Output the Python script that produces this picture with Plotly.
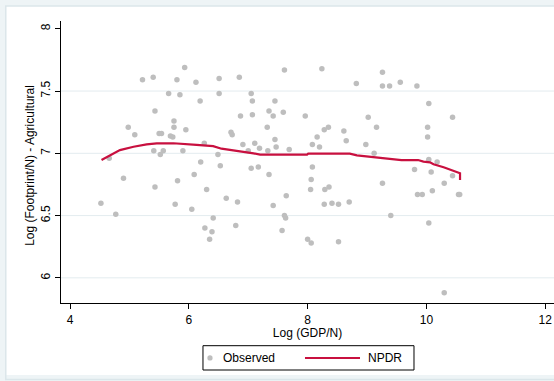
import plotly.graph_objects as go

# Observed countries: log GDP per capita vs log agricultural footprint per capita
gdp = [5.22, 5.40, 5.93, 5.80, 6.12, 6.51, 6.85, 5.66, 5.85, 6.51,
       6.19, 7.05, 7.07, 7.45, 5.43, 5.75, 5.75, 6.87, 7.07, 7.35,
       7.42, 4.98, 5.09, 5.50, 5.54, 5.69, 5.73, 5.95, 6.71, 6.73,
       7.32, 7.45, 5.41, 5.52, 5.57, 5.90, 6.26, 6.49, 6.91, 7.11,
       7.19, 7.33, 7.47, 6.20, 6.53, 7.05, 7.17, 7.35, 4.90, 6.09,
       5.81, 5.43, 6.30, 7.61, 8.24, 9.26, 8.82, 9.26, 9.38, 9.56,
       9.84, 10.04, 7.59, 7.96, 9.02, 10.44, 9.16, 10.02, 8.28, 8.35,
       8.61, 8.16, 8.65, 10.02, 8.08, 8.20, 8.98, 7.69, 9.12, 10.04,
       10.18, 9.80, 10.08, 10.44, 8.08, 8.06, 9.26, 10.30, 4.52, 4.77,
       5.77, 6.05, 6.41, 6.27, 6.39, 6.35, 6.63, 6.82, 6.79, 7.42,
       7.64, 7.61, 7.63, 7.57, 8.05, 8.29, 8.36, 8.28, 8.41, 8.52,
       8.70, 8.00, 8.06, 8.52, 9.40, 9.85, 9.93, 10.10, 10.04, 10.54,
       10.56, 10.30, 7.00, 4.66]
footprint = [7.59, 7.61, 7.69, 7.59, 7.57, 7.60, 7.61, 7.48, 7.47, 7.48,
             7.42, 7.48, 7.42, 7.42, 7.34, 7.26, 7.21, 7.30, 7.31, 7.34,
             7.30, 7.21, 7.15, 7.16, 7.16, 7.14, 7.13, 7.19, 7.17, 7.15,
             7.21, 7.11, 7.02, 6.99, 7.02, 7.02, 7.08, 6.99, 7.07, 7.08,
             7.04, 7.02, 7.05, 6.93, 6.90, 6.88, 6.89, 6.83, 6.80, 6.83,
             6.78, 6.73, 6.71, 7.67, 7.68, 7.65, 7.56, 7.54, 7.54, 7.57,
             7.54, 7.40, 7.33, 7.30, 7.29, 7.29, 7.21, 7.21, 7.19, 7.21,
             7.18, 7.13, 7.10, 7.13, 7.07, 7.05, 7.07, 7.03, 7.00, 6.95,
             6.93, 6.87, 6.85, 6.82, 6.89, 6.79, 6.76, 6.76, 6.60, 6.51,
             6.59, 6.55, 6.48, 6.40, 6.37, 6.31, 6.64, 6.61, 6.42, 6.58,
             6.66, 6.50, 6.48, 6.38, 6.71, 6.71, 6.73, 6.59, 6.60, 6.59,
             6.61, 6.31, 6.28, 6.29, 6.50, 6.67, 6.67, 6.70, 6.44, 6.67,
             6.67, 5.88, 7.02, 6.96]

# Nonparametric regression fit (NPDR)
npdr_x = [4.53, 4.84, 5.07, 5.29, 5.46, 5.74, 6.13, 6.41, 6.55, 6.75,
          6.89, 7.09, 7.20, 7.56, 7.99, 8.01, 8.71, 8.83, 9.05, 9.27,
          9.58, 9.86, 9.95, 10.06, 10.12, 10.29, 10.54, 10.566, 10.566]
npdr_y = [6.946, 7.026, 7.053, 7.072, 7.080, 7.081, 7.067, 7.058, 7.037, 7.026,
          7.013, 7.000, 6.989, 6.989, 6.990, 6.998, 6.997, 6.984, 6.973, 6.957,
          6.946, 6.946, 6.933, 6.928, 6.912, 6.888, 6.845, 6.840, 6.786]

x_ticks = [4, 6, 8, 10, 12]
y_ticks = [6, 6.5, 7, 7.5, 8]
y_grid = [6, 6.5, 7, 7.5]

FONT = "Liberation Sans, Arial, sans-serif"
MARKER_GRAY = "#bebebe"
FIT_RED = "#c8103f"
GRID = "#e3ecef"

fig = go.Figure()
fig.add_trace(go.Scatter(
    x=gdp, y=footprint, mode="markers", name="Observed",
    marker=dict(color=MARKER_GRAY, size=5.5, line=dict(width=0)),
))
fig.add_trace(go.Scatter(
    x=npdr_x, y=npdr_y, mode="lines", name="NPDR",
    line=dict(color=FIT_RED, width=2.2),
))

shapes = [
    # pale outer band of the graph region
    dict(type="rect", xref="paper", yref="paper",
         x0=-0.1176, x1=1.08, y0=-0.266, y1=1.0638,
         fillcolor="rgba(0,0,0,0)", line=dict(color="#eef4f6", width=6), layer="below"),
    dict(type="rect", xref="paper", yref="paper",
         x0=-0.112, x1=1.08, y0=-0.271, y1=1.053,
         fillcolor="rgba(0,0,0,0)", line=dict(color="#dbe6ea", width=1.5), layer="below"),
]
for g in y_grid:
    shapes.append(dict(type="line", xref="paper", yref="y", x0=0, x1=1, y0=g, y1=g,
                       line=dict(color=GRID, width=1), layer="below"))

# key box below the plot
LEG_Y = -0.195
shapes += [
    dict(type="rect", xref="paper", yref="paper", x0=0.288, x1=0.716,
         y0=-0.2376, y1=-0.1514, fillcolor="white",
         line=dict(color="black", width=1)),
    dict(type="circle", xref="paper", yref="paper",
         x0=0.3022 - 0.0053, x1=0.3022 + 0.0053,
         y0=LEG_Y - 0.0093, y1=LEG_Y + 0.0093,
         fillcolor=MARKER_GRAY, line=dict(width=0)),
    dict(type="line", xref="paper", yref="paper", x0=0.4949, x1=0.6065,
         y0=LEG_Y, y1=LEG_Y, line=dict(color=FIT_RED, width=2.2)),
]
annotations = [
    dict(text="Observed", xref="paper", yref="paper", x=0.3245, y=LEG_Y,
         xanchor="left", yanchor="middle", showarrow=False,
         font=dict(family=FONT, size=12, color="black")),
    dict(text="NPDR", xref="paper", yref="paper", x=0.6187, y=LEG_Y,
         xanchor="left", yanchor="middle", showarrow=False,
         font=dict(family=FONT, size=12, color="black")),
    dict(text="Log (Footprint/N) - Agricultural", xref="paper", yref="paper",
         x=-0.0629, y=0.49, xanchor="center", yanchor="middle", textangle=-90,
         showarrow=False, font=dict(family=FONT, size=12, color="black")),
]

fig.update_layout(
    width=554, height=381,
    margin=dict(l=61, r=0, t=21, b=78),
    paper_bgcolor="white",
    plot_bgcolor="white",
    font=dict(family=FONT, size=12, color="black"),
    shapes=shapes,
    annotations=annotations,
    showlegend=False,
    xaxis=dict(
        range=[3.848, 12.148], tickvals=x_ticks, ticks="outside", ticklen=5,
        tickcolor="black", showline=True, linecolor="black", linewidth=1.2,
        showgrid=False, zeroline=False,
        title=dict(text="Log (GDP/N)", standoff=2, font=dict(size=12)),
        tickfont=dict(size=12),
    ),
    yaxis=dict(
        range=[5.798, 8.0625], tickvals=y_ticks, ticktext=["6", "6.5", "7", "7.5", "8"],
        ticks="outside", ticklen=5, tickcolor="black", tickangle=-90,
        showline=True, linecolor="black", linewidth=1.2,
        showgrid=False, zeroline=False,
        tickfont=dict(size=12),
    ),
)

fig.write_html("out.html")
